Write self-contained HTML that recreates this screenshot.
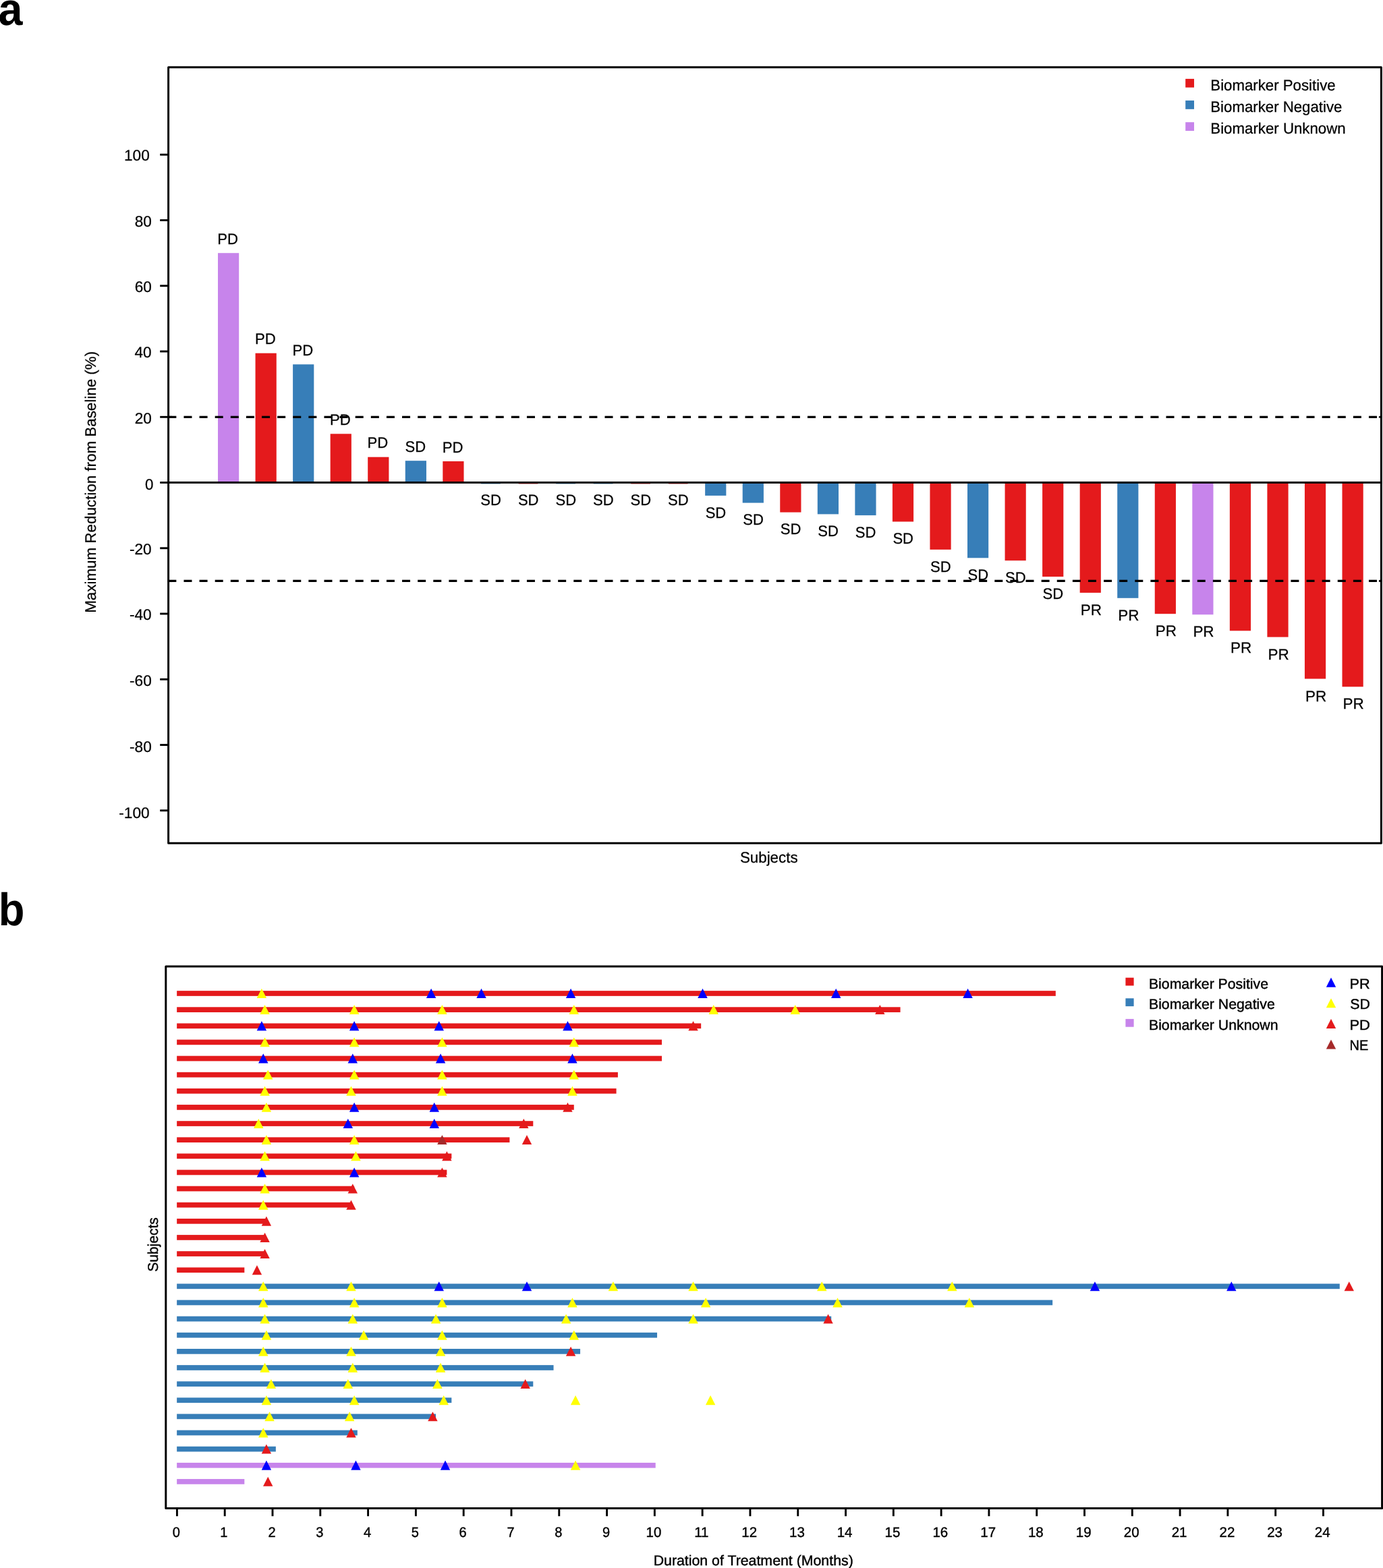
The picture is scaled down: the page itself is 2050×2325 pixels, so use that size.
<!DOCTYPE html>
<html lang="en">
<head>
<meta charset="utf-8">
<title>Tumor response waterfall and swimmer plots</title>
<style>
html,body{margin:0;padding:0;background:#fff;overflow:hidden;}
body{width:2050px;height:2325px;overflow:hidden;}
svg{display:block;}
text{fill:#000;text-rendering:geometricPrecision;}
</style>
</head>
<body>
<svg width="2050" height="2325" viewBox="0 0 2050 2325">
<rect x="0" y="0" width="2050" height="2325" fill="#fff"/>
<g shape-rendering="auto">
<rect x="323.00" y="375.20" width="31.20" height="340.35" fill="#c784eb"/>
<rect x="378.55" y="523.70" width="31.20" height="191.85" fill="#e41a1c"/>
<rect x="434.10" y="540.30" width="31.20" height="175.25" fill="#377eb8"/>
<rect x="489.65" y="643.30" width="31.20" height="72.25" fill="#e41a1c"/>
<rect x="545.20" y="677.70" width="31.20" height="37.85" fill="#e41a1c"/>
<rect x="600.75" y="683.20" width="31.20" height="32.35" fill="#377eb8"/>
<rect x="656.30" y="684.00" width="31.20" height="31.55" fill="#e41a1c"/>
<rect x="713.05" y="715.55" width="28.80" height="2.10" fill="#377eb8" fill-opacity="0.75"/>
<rect x="768.60" y="715.55" width="28.80" height="2.10" fill="#e41a1c" fill-opacity="0.75"/>
<rect x="824.15" y="715.55" width="28.80" height="2.10" fill="#377eb8" fill-opacity="0.75"/>
<rect x="879.70" y="715.55" width="28.80" height="2.10" fill="#377eb8" fill-opacity="0.75"/>
<rect x="935.25" y="715.55" width="28.80" height="2.10" fill="#e41a1c" fill-opacity="0.75"/>
<rect x="990.80" y="715.55" width="28.80" height="2.10" fill="#e41a1c" fill-opacity="0.75"/>
<rect x="1045.15" y="715.55" width="31.20" height="19.35" fill="#377eb8"/>
<rect x="1100.70" y="715.55" width="31.20" height="30.05" fill="#377eb8"/>
<rect x="1156.25" y="715.55" width="31.20" height="44.05" fill="#e41a1c"/>
<rect x="1211.80" y="715.55" width="31.20" height="46.85" fill="#377eb8"/>
<rect x="1267.35" y="715.55" width="31.20" height="48.55" fill="#377eb8"/>
<rect x="1322.90" y="715.55" width="31.20" height="57.95" fill="#e41a1c"/>
<rect x="1378.45" y="715.55" width="31.20" height="99.35" fill="#e41a1c"/>
<rect x="1434.00" y="715.55" width="31.20" height="111.75" fill="#377eb8"/>
<rect x="1489.55" y="715.55" width="31.20" height="115.65" fill="#e41a1c"/>
<rect x="1545.10" y="715.55" width="31.20" height="139.55" fill="#e41a1c"/>
<rect x="1600.65" y="715.55" width="31.20" height="163.35" fill="#e41a1c"/>
<rect x="1656.20" y="715.55" width="31.20" height="171.25" fill="#377eb8"/>
<rect x="1711.75" y="715.55" width="31.20" height="194.65" fill="#e41a1c"/>
<rect x="1767.30" y="715.55" width="31.20" height="195.75" fill="#c784eb"/>
<rect x="1822.85" y="715.55" width="31.20" height="219.75" fill="#e41a1c"/>
<rect x="1878.40" y="715.55" width="31.20" height="229.05" fill="#e41a1c"/>
<rect x="1933.95" y="715.55" width="31.20" height="290.95" fill="#e41a1c"/>
<rect x="1989.50" y="715.55" width="31.20" height="302.75" fill="#e41a1c"/>
</g>
<line x1="249.35" y1="618.30" x2="2043.50" y2="618.30" stroke="#000" stroke-width="3.3" stroke-dasharray="12.0 11.112"/>
<circle cx="2045.40" cy="618.30" r="1.55" fill="#000"/>
<line x1="249.35" y1="861.40" x2="2043.50" y2="861.40" stroke="#000" stroke-width="3.3" stroke-dasharray="12.0 11.112"/>
<circle cx="2045.40" cy="861.40" r="1.55" fill="#000"/>
<line x1="249.60" y1="715.55" x2="2047.40" y2="715.55" stroke="#000" stroke-width="3.00"/>
<rect x="249.60" y="99.70" width="1797.80" height="1150.65" fill="none" stroke="#000" stroke-width="3.00" stroke-linejoin="round"/>
<line x1="237.2" y1="229.30" x2="249.60" y2="229.30" stroke="#000" stroke-width="2.90"/>
<text transform="translate(183.94 238.20) scale(1.0029 1)" font-family='"Liberation Sans", sans-serif' font-size="22.60px" stroke="#000" stroke-width="0.25">100</text>
<line x1="237.2" y1="326.55" x2="249.60" y2="326.55" stroke="#000" stroke-width="2.90"/>
<text transform="translate(199.74 335.85) scale(0.9993 1)" font-family='"Liberation Sans", sans-serif' font-size="22.60px" stroke="#000" stroke-width="0.25">80</text>
<line x1="237.2" y1="423.80" x2="249.60" y2="423.80" stroke="#000" stroke-width="2.90"/>
<text transform="translate(199.74 432.70) scale(0.9992 1)" font-family='"Liberation Sans", sans-serif' font-size="22.60px" stroke="#000" stroke-width="0.25">60</text>
<line x1="237.2" y1="521.05" x2="249.60" y2="521.05" stroke="#000" stroke-width="2.90"/>
<text transform="translate(199.53 529.95) scale(0.9995 1)" font-family='"Liberation Sans", sans-serif' font-size="22.60px" stroke="#000" stroke-width="0.25">40</text>
<line x1="237.2" y1="618.30" x2="249.60" y2="618.30" stroke="#000" stroke-width="2.90"/>
<text transform="translate(199.74 627.70) scale(0.9992 1)" font-family='"Liberation Sans", sans-serif' font-size="22.60px" stroke="#000" stroke-width="0.25">20</text>
<line x1="237.2" y1="715.55" x2="249.60" y2="715.55" stroke="#000" stroke-width="2.90"/>
<text transform="translate(214.94 725.75) scale(0.9869 1)" font-family='"Liberation Sans", sans-serif' font-size="22.60px" stroke="#000" stroke-width="0.25">0</text>
<line x1="237.2" y1="812.80" x2="249.60" y2="812.80" stroke="#000" stroke-width="2.90"/>
<text transform="translate(191.93 821.90) scale(1.0019 1)" font-family='"Liberation Sans", sans-serif' font-size="22.60px" stroke="#000" stroke-width="0.25">-20</text>
<line x1="237.2" y1="910.05" x2="249.60" y2="910.05" stroke="#000" stroke-width="2.90"/>
<text transform="translate(191.93 918.95) scale(1.0019 1)" font-family='"Liberation Sans", sans-serif' font-size="22.60px" stroke="#000" stroke-width="0.25">-40</text>
<line x1="237.2" y1="1007.30" x2="249.60" y2="1007.30" stroke="#000" stroke-width="2.90"/>
<text transform="translate(192.03 1017.30) scale(1.0019 1)" font-family='"Liberation Sans", sans-serif' font-size="22.60px" stroke="#000" stroke-width="0.25">-60</text>
<line x1="237.2" y1="1104.55" x2="249.60" y2="1104.55" stroke="#000" stroke-width="2.90"/>
<text transform="translate(192.03 1114.75) scale(1.0019 1)" font-family='"Liberation Sans", sans-serif' font-size="22.60px" stroke="#000" stroke-width="0.25">-80</text>
<line x1="237.2" y1="1201.80" x2="249.60" y2="1201.80" stroke="#000" stroke-width="2.90"/>
<text transform="translate(176.24 1212.70) scale(1.0042 1)" font-family='"Liberation Sans", sans-serif' font-size="22.60px" stroke="#000" stroke-width="0.25">-100</text>
<text transform="translate(322.36 361.80) scale(0.9786 1)" font-family='"Liberation Sans", sans-serif' font-size="22.60px" stroke="#000" stroke-width="0.25">PD</text>
<text transform="translate(377.91 510.30) scale(0.9786 1)" font-family='"Liberation Sans", sans-serif' font-size="22.60px" stroke="#000" stroke-width="0.25">PD</text>
<text transform="translate(433.46 526.90) scale(0.9786 1)" font-family='"Liberation Sans", sans-serif' font-size="22.60px" stroke="#000" stroke-width="0.25">PD</text>
<text transform="translate(489.01 629.90) scale(0.9786 1)" font-family='"Liberation Sans", sans-serif' font-size="22.60px" stroke="#000" stroke-width="0.25">PD</text>
<text transform="translate(544.56 664.30) scale(0.9786 1)" font-family='"Liberation Sans", sans-serif' font-size="22.60px" stroke="#000" stroke-width="0.25">PD</text>
<text transform="translate(600.57 669.80) scale(0.9748 1)" font-family='"Liberation Sans", sans-serif' font-size="22.60px" stroke="#000" stroke-width="0.25">SD</text>
<text transform="translate(655.66 670.60) scale(0.9786 1)" font-family='"Liberation Sans", sans-serif' font-size="22.60px" stroke="#000" stroke-width="0.25">PD</text>
<text transform="translate(712.37 749.15) scale(0.9748 1)" font-family='"Liberation Sans", sans-serif' font-size="22.60px" stroke="#000" stroke-width="0.25">SD</text>
<text transform="translate(767.92 749.15) scale(0.9748 1)" font-family='"Liberation Sans", sans-serif' font-size="22.60px" stroke="#000" stroke-width="0.25">SD</text>
<text transform="translate(823.47 749.15) scale(0.9748 1)" font-family='"Liberation Sans", sans-serif' font-size="22.60px" stroke="#000" stroke-width="0.25">SD</text>
<text transform="translate(879.02 749.15) scale(0.9748 1)" font-family='"Liberation Sans", sans-serif' font-size="22.60px" stroke="#000" stroke-width="0.25">SD</text>
<text transform="translate(934.57 749.15) scale(0.9748 1)" font-family='"Liberation Sans", sans-serif' font-size="22.60px" stroke="#000" stroke-width="0.25">SD</text>
<text transform="translate(990.12 749.15) scale(0.9748 1)" font-family='"Liberation Sans", sans-serif' font-size="22.60px" stroke="#000" stroke-width="0.25">SD</text>
<text transform="translate(1045.67 767.70) scale(0.9748 1)" font-family='"Liberation Sans", sans-serif' font-size="22.60px" stroke="#000" stroke-width="0.25">SD</text>
<text transform="translate(1101.22 778.40) scale(0.9748 1)" font-family='"Liberation Sans", sans-serif' font-size="22.60px" stroke="#000" stroke-width="0.25">SD</text>
<text transform="translate(1156.77 792.40) scale(0.9748 1)" font-family='"Liberation Sans", sans-serif' font-size="22.60px" stroke="#000" stroke-width="0.25">SD</text>
<text transform="translate(1212.32 795.20) scale(0.9748 1)" font-family='"Liberation Sans", sans-serif' font-size="22.60px" stroke="#000" stroke-width="0.25">SD</text>
<text transform="translate(1267.87 796.90) scale(0.9748 1)" font-family='"Liberation Sans", sans-serif' font-size="22.60px" stroke="#000" stroke-width="0.25">SD</text>
<text transform="translate(1323.42 806.30) scale(0.9748 1)" font-family='"Liberation Sans", sans-serif' font-size="22.60px" stroke="#000" stroke-width="0.25">SD</text>
<text transform="translate(1378.97 847.70) scale(0.9748 1)" font-family='"Liberation Sans", sans-serif' font-size="22.60px" stroke="#000" stroke-width="0.25">SD</text>
<text transform="translate(1434.52 860.10) scale(0.9748 1)" font-family='"Liberation Sans", sans-serif' font-size="22.60px" stroke="#000" stroke-width="0.25">SD</text>
<text transform="translate(1490.07 864.00) scale(0.9748 1)" font-family='"Liberation Sans", sans-serif' font-size="22.60px" stroke="#000" stroke-width="0.25">SD</text>
<text transform="translate(1545.62 887.90) scale(0.9748 1)" font-family='"Liberation Sans", sans-serif' font-size="22.60px" stroke="#000" stroke-width="0.25">SD</text>
<text transform="translate(1601.73 912.00) scale(0.9950 1)" font-family='"Liberation Sans", sans-serif' font-size="22.60px" stroke="#000" stroke-width="0.25">PR</text>
<text transform="translate(1657.28 919.90) scale(0.9950 1)" font-family='"Liberation Sans", sans-serif' font-size="22.60px" stroke="#000" stroke-width="0.25">PR</text>
<text transform="translate(1712.83 943.30) scale(0.9950 1)" font-family='"Liberation Sans", sans-serif' font-size="22.60px" stroke="#000" stroke-width="0.25">PR</text>
<text transform="translate(1768.38 944.40) scale(0.9950 1)" font-family='"Liberation Sans", sans-serif' font-size="22.60px" stroke="#000" stroke-width="0.25">PR</text>
<text transform="translate(1823.93 968.40) scale(0.9950 1)" font-family='"Liberation Sans", sans-serif' font-size="22.60px" stroke="#000" stroke-width="0.25">PR</text>
<text transform="translate(1879.48 977.70) scale(0.9950 1)" font-family='"Liberation Sans", sans-serif' font-size="22.60px" stroke="#000" stroke-width="0.25">PR</text>
<text transform="translate(1935.03 1039.60) scale(0.9950 1)" font-family='"Liberation Sans", sans-serif' font-size="22.60px" stroke="#000" stroke-width="0.25">PR</text>
<text transform="translate(1990.58 1051.40) scale(0.9950 1)" font-family='"Liberation Sans", sans-serif' font-size="22.60px" stroke="#000" stroke-width="0.25">PR</text>
<rect x="1757.2" y="116.90" width="12.8" height="12.8" fill="#e41a1c"/>
<text transform="translate(1794.30 133.80) scale(0.9839 1)" font-family='"Liberation Sans", sans-serif' font-size="22.60px" stroke="#000" stroke-width="0.25">Biomarker Positive</text>
<rect x="1757.2" y="149.05" width="12.8" height="12.8" fill="#377eb8"/>
<text transform="translate(1794.30 166.05) scale(0.9834 1)" font-family='"Liberation Sans", sans-serif' font-size="22.60px" stroke="#000" stroke-width="0.25">Biomarker Negative</text>
<rect x="1757.2" y="181.20" width="12.8" height="12.8" fill="#c784eb"/>
<text transform="translate(1794.30 198.30) scale(0.9850 1)" font-family='"Liberation Sans", sans-serif' font-size="22.60px" stroke="#000" stroke-width="0.25">Biomarker Unknown</text>
<text transform="translate(1096.91 1279.10) scale(0.9884 1)" font-family='"Liberation Sans", sans-serif' font-size="22.60px" stroke="#000" stroke-width="0.25">Subjects</text>
<text transform="translate(142.20 908.81) rotate(-90) scale(0.9903 1)" font-family='"Liberation Sans", sans-serif' font-size="22.60px" stroke="#000" stroke-width="0.25">Maximum Reduction from Baseline (%)</text>
<text transform="translate(-2.40 37.20) scale(0.9515 1)" font-family='"Liberation Sans", sans-serif' font-size="68.00px" font-weight="bold">a</text>
<rect x="262.15" y="1469.15" width="1302.66" height="7.70" fill="#e41a1c"/>
<rect x="262.15" y="1493.28" width="1072.40" height="7.70" fill="#e41a1c"/>
<rect x="262.15" y="1517.41" width="777.01" height="7.70" fill="#e41a1c"/>
<rect x="262.15" y="1541.54" width="718.86" height="7.70" fill="#e41a1c"/>
<rect x="262.15" y="1565.67" width="718.86" height="7.70" fill="#e41a1c"/>
<rect x="262.15" y="1589.80" width="653.73" height="7.70" fill="#e41a1c"/>
<rect x="262.15" y="1613.93" width="651.41" height="7.70" fill="#e41a1c"/>
<rect x="262.15" y="1638.06" width="588.61" height="7.70" fill="#e41a1c"/>
<rect x="262.15" y="1662.19" width="528.13" height="7.70" fill="#e41a1c"/>
<rect x="262.15" y="1686.32" width="493.24" height="7.70" fill="#e41a1c"/>
<rect x="262.15" y="1710.45" width="407.18" height="7.70" fill="#e41a1c"/>
<rect x="262.15" y="1734.58" width="400.21" height="7.70" fill="#e41a1c"/>
<rect x="262.15" y="1758.71" width="262.98" height="7.70" fill="#e41a1c"/>
<rect x="262.15" y="1782.84" width="258.33" height="7.70" fill="#e41a1c"/>
<rect x="262.15" y="1806.97" width="132.73" height="7.70" fill="#e41a1c"/>
<rect x="262.15" y="1831.10" width="130.40" height="7.70" fill="#e41a1c"/>
<rect x="262.15" y="1855.23" width="130.40" height="7.70" fill="#e41a1c"/>
<rect x="262.15" y="1879.36" width="100.16" height="7.70" fill="#e41a1c"/>
<rect x="262.15" y="1903.49" width="1723.65" height="7.70" fill="#377eb8"/>
<rect x="262.15" y="1927.62" width="1298.01" height="7.70" fill="#377eb8"/>
<rect x="262.15" y="1951.75" width="970.06" height="7.70" fill="#377eb8"/>
<rect x="262.15" y="1975.88" width="711.88" height="7.70" fill="#377eb8"/>
<rect x="262.15" y="2000.01" width="597.91" height="7.70" fill="#377eb8"/>
<rect x="262.15" y="2024.14" width="558.37" height="7.70" fill="#377eb8"/>
<rect x="262.15" y="2048.27" width="528.13" height="7.70" fill="#377eb8"/>
<rect x="262.15" y="2072.40" width="407.18" height="7.70" fill="#377eb8"/>
<rect x="262.15" y="2096.53" width="383.93" height="7.70" fill="#377eb8"/>
<rect x="262.15" y="2120.66" width="267.63" height="7.70" fill="#377eb8"/>
<rect x="262.15" y="2144.79" width="146.68" height="7.70" fill="#377eb8"/>
<rect x="262.15" y="2168.92" width="709.55" height="7.70" fill="#c784eb"/>
<rect x="262.15" y="2193.05" width="100.16" height="7.70" fill="#c784eb"/>
<path d="M387.90 1465.80L395.10 1479.95L380.70 1479.95Z" fill="#ffff00"/>
<path d="M639.10 1465.80L646.30 1479.95L631.90 1479.95Z" fill="#0000ff"/>
<path d="M713.53 1465.80L720.73 1479.95L706.33 1479.95Z" fill="#0000ff"/>
<path d="M846.10 1465.80L853.30 1479.95L838.90 1479.95Z" fill="#0000ff"/>
<path d="M1041.48 1465.80L1048.68 1479.95L1034.28 1479.95Z" fill="#0000ff"/>
<path d="M1239.18 1465.80L1246.38 1479.95L1231.98 1479.95Z" fill="#0000ff"/>
<path d="M1434.56 1465.80L1441.76 1479.95L1427.36 1479.95Z" fill="#0000ff"/>
<path d="M392.55 1489.93L399.75 1504.08L385.35 1504.08Z" fill="#ffff00"/>
<path d="M525.13 1489.93L532.33 1504.08L517.93 1504.08Z" fill="#ffff00"/>
<path d="M655.38 1489.93L662.58 1504.08L648.18 1504.08Z" fill="#ffff00"/>
<path d="M850.76 1489.93L857.96 1504.08L843.56 1504.08Z" fill="#ffff00"/>
<path d="M1057.76 1489.93L1064.96 1504.08L1050.56 1504.08Z" fill="#ffff00"/>
<path d="M1178.71 1489.93L1185.91 1504.08L1171.51 1504.08Z" fill="#ffff00"/>
<path d="M1304.31 1489.93L1311.51 1504.08L1297.11 1504.08Z" fill="#e41a1c"/>
<path d="M387.90 1514.06L395.10 1528.21L380.70 1528.21Z" fill="#0000ff"/>
<path d="M525.13 1514.06L532.33 1528.21L517.93 1528.21Z" fill="#0000ff"/>
<path d="M650.73 1514.06L657.93 1528.21L643.53 1528.21Z" fill="#0000ff"/>
<path d="M841.45 1514.06L848.65 1528.21L834.25 1528.21Z" fill="#0000ff"/>
<path d="M1027.53 1514.06L1034.73 1528.21L1020.33 1528.21Z" fill="#e41a1c"/>
<path d="M392.55 1538.19L399.75 1552.34L385.35 1552.34Z" fill="#ffff00"/>
<path d="M525.13 1538.19L532.33 1552.34L517.93 1552.34Z" fill="#ffff00"/>
<path d="M655.38 1538.19L662.58 1552.34L648.18 1552.34Z" fill="#ffff00"/>
<path d="M850.76 1538.19L857.96 1552.34L843.56 1552.34Z" fill="#ffff00"/>
<path d="M390.23 1562.32L397.43 1576.47L383.03 1576.47Z" fill="#0000ff"/>
<path d="M522.80 1562.32L530.00 1576.47L515.60 1576.47Z" fill="#0000ff"/>
<path d="M653.05 1562.32L660.25 1576.47L645.85 1576.47Z" fill="#0000ff"/>
<path d="M848.43 1562.32L855.63 1576.47L841.23 1576.47Z" fill="#0000ff"/>
<path d="M397.20 1586.45L404.40 1600.60L390.00 1600.60Z" fill="#ffff00"/>
<path d="M525.13 1586.45L532.33 1600.60L517.93 1600.60Z" fill="#ffff00"/>
<path d="M655.38 1586.45L662.58 1600.60L648.18 1600.60Z" fill="#ffff00"/>
<path d="M850.76 1586.45L857.96 1600.60L843.56 1600.60Z" fill="#ffff00"/>
<path d="M392.55 1610.58L399.75 1624.73L385.35 1624.73Z" fill="#ffff00"/>
<path d="M520.48 1610.58L527.68 1624.73L513.28 1624.73Z" fill="#ffff00"/>
<path d="M655.38 1610.58L662.58 1624.73L648.18 1624.73Z" fill="#ffff00"/>
<path d="M848.43 1610.58L855.63 1624.73L841.23 1624.73Z" fill="#ffff00"/>
<path d="M394.88 1634.71L402.08 1648.86L387.68 1648.86Z" fill="#ffff00"/>
<path d="M525.13 1634.71L532.33 1648.86L517.93 1648.86Z" fill="#0000ff"/>
<path d="M643.75 1634.71L650.95 1648.86L636.55 1648.86Z" fill="#0000ff"/>
<path d="M841.45 1634.71L848.65 1648.86L834.25 1648.86Z" fill="#e41a1c"/>
<path d="M383.25 1658.84L390.45 1672.99L376.05 1672.99Z" fill="#ffff00"/>
<path d="M515.82 1658.84L523.02 1672.99L508.62 1672.99Z" fill="#0000ff"/>
<path d="M643.75 1658.84L650.95 1672.99L636.55 1672.99Z" fill="#0000ff"/>
<path d="M776.33 1658.84L783.53 1672.99L769.13 1672.99Z" fill="#e41a1c"/>
<path d="M394.88 1682.97L402.08 1697.12L387.68 1697.12Z" fill="#ffff00"/>
<path d="M525.13 1682.97L532.33 1697.12L517.93 1697.12Z" fill="#ffff00"/>
<path d="M655.38 1682.97L662.58 1697.12L648.18 1697.12Z" fill="#a52a2a"/>
<path d="M780.98 1682.97L788.18 1697.12L773.78 1697.12Z" fill="#e41a1c"/>
<path d="M392.55 1707.10L399.75 1721.25L385.35 1721.25Z" fill="#ffff00"/>
<path d="M527.45 1707.10L534.65 1721.25L520.25 1721.25Z" fill="#ffff00"/>
<path d="M662.36 1707.10L669.56 1721.25L655.16 1721.25Z" fill="#e41a1c"/>
<path d="M387.90 1731.23L395.10 1745.38L380.70 1745.38Z" fill="#0000ff"/>
<path d="M525.13 1731.23L532.33 1745.38L517.93 1745.38Z" fill="#0000ff"/>
<path d="M655.38 1731.23L662.58 1745.38L648.18 1745.38Z" fill="#e41a1c"/>
<path d="M392.55 1755.36L399.75 1769.51L385.35 1769.51Z" fill="#ffff00"/>
<path d="M522.80 1755.36L530.00 1769.51L515.60 1769.51Z" fill="#e41a1c"/>
<path d="M390.23 1779.49L397.43 1793.64L383.03 1793.64Z" fill="#ffff00"/>
<path d="M520.48 1779.49L527.68 1793.64L513.28 1793.64Z" fill="#e41a1c"/>
<path d="M394.88 1803.62L402.08 1817.77L387.68 1817.77Z" fill="#e41a1c"/>
<path d="M392.55 1827.75L399.75 1841.90L385.35 1841.90Z" fill="#e41a1c"/>
<path d="M392.55 1851.88L399.75 1866.03L385.35 1866.03Z" fill="#e41a1c"/>
<path d="M380.92 1876.01L388.12 1890.16L373.72 1890.16Z" fill="#e41a1c"/>
<path d="M390.23 1900.14L397.43 1914.29L383.03 1914.29Z" fill="#ffff00"/>
<path d="M520.48 1900.14L527.68 1914.29L513.28 1914.29Z" fill="#ffff00"/>
<path d="M650.73 1900.14L657.93 1914.29L643.53 1914.29Z" fill="#0000ff"/>
<path d="M780.98 1900.14L788.18 1914.29L773.78 1914.29Z" fill="#0000ff"/>
<path d="M908.90 1900.14L916.10 1914.29L901.70 1914.29Z" fill="#ffff00"/>
<path d="M1027.53 1900.14L1034.73 1914.29L1020.33 1914.29Z" fill="#ffff00"/>
<path d="M1218.25 1900.14L1225.45 1914.29L1211.05 1914.29Z" fill="#ffff00"/>
<path d="M1411.30 1900.14L1418.50 1914.29L1404.10 1914.29Z" fill="#ffff00"/>
<path d="M1622.96 1900.14L1630.16 1914.29L1615.76 1914.29Z" fill="#0000ff"/>
<path d="M1825.31 1900.14L1832.51 1914.29L1818.11 1914.29Z" fill="#0000ff"/>
<path d="M1999.76 1900.14L2006.96 1914.29L1992.56 1914.29Z" fill="#e41a1c"/>
<path d="M390.23 1924.27L397.43 1938.42L383.03 1938.42Z" fill="#ffff00"/>
<path d="M525.13 1924.27L532.33 1938.42L517.93 1938.42Z" fill="#ffff00"/>
<path d="M655.38 1924.27L662.58 1938.42L648.18 1938.42Z" fill="#ffff00"/>
<path d="M848.43 1924.27L855.63 1938.42L841.23 1938.42Z" fill="#ffff00"/>
<path d="M1046.13 1924.27L1053.33 1938.42L1038.93 1938.42Z" fill="#ffff00"/>
<path d="M1241.51 1924.27L1248.71 1938.42L1234.31 1938.42Z" fill="#ffff00"/>
<path d="M1436.89 1924.27L1444.09 1938.42L1429.69 1938.42Z" fill="#ffff00"/>
<path d="M392.55 1948.40L399.75 1962.55L385.35 1962.55Z" fill="#ffff00"/>
<path d="M522.80 1948.40L530.00 1962.55L515.60 1962.55Z" fill="#ffff00"/>
<path d="M646.08 1948.40L653.28 1962.55L638.88 1962.55Z" fill="#ffff00"/>
<path d="M839.13 1948.40L846.33 1962.55L831.93 1962.55Z" fill="#ffff00"/>
<path d="M1027.53 1948.40L1034.73 1962.55L1020.33 1962.55Z" fill="#ffff00"/>
<path d="M1227.55 1948.40L1234.75 1962.55L1220.35 1962.55Z" fill="#e41a1c"/>
<path d="M394.88 1972.53L402.08 1986.68L387.68 1986.68Z" fill="#ffff00"/>
<path d="M539.08 1972.53L546.28 1986.68L531.88 1986.68Z" fill="#ffff00"/>
<path d="M655.38 1972.53L662.58 1986.68L648.18 1986.68Z" fill="#ffff00"/>
<path d="M850.76 1972.53L857.96 1986.68L843.56 1986.68Z" fill="#ffff00"/>
<path d="M390.23 1996.66L397.43 2010.81L383.03 2010.81Z" fill="#ffff00"/>
<path d="M520.48 1996.66L527.68 2010.81L513.28 2010.81Z" fill="#ffff00"/>
<path d="M653.05 1996.66L660.25 2010.81L645.85 2010.81Z" fill="#ffff00"/>
<path d="M846.10 1996.66L853.30 2010.81L838.90 2010.81Z" fill="#e41a1c"/>
<path d="M392.55 2020.79L399.75 2034.94L385.35 2034.94Z" fill="#ffff00"/>
<path d="M522.80 2020.79L530.00 2034.94L515.60 2034.94Z" fill="#ffff00"/>
<path d="M653.05 2020.79L660.25 2034.94L645.85 2034.94Z" fill="#ffff00"/>
<path d="M401.85 2044.92L409.05 2059.07L394.65 2059.07Z" fill="#ffff00"/>
<path d="M515.82 2044.92L523.02 2059.07L508.62 2059.07Z" fill="#ffff00"/>
<path d="M648.40 2044.92L655.60 2059.07L641.20 2059.07Z" fill="#ffff00"/>
<path d="M778.65 2044.92L785.85 2059.07L771.45 2059.07Z" fill="#e41a1c"/>
<path d="M394.88 2069.05L402.08 2083.20L387.68 2083.20Z" fill="#ffff00"/>
<path d="M525.13 2069.05L532.33 2083.20L517.93 2083.20Z" fill="#ffff00"/>
<path d="M657.71 2069.05L664.91 2083.20L650.51 2083.20Z" fill="#ffff00"/>
<path d="M853.08 2069.05L860.28 2083.20L845.88 2083.20Z" fill="#ffff00"/>
<path d="M1053.11 2069.05L1060.31 2083.20L1045.91 2083.20Z" fill="#ffff00"/>
<path d="M399.53 2093.18L406.73 2107.33L392.33 2107.33Z" fill="#ffff00"/>
<path d="M518.15 2093.18L525.35 2107.33L510.95 2107.33Z" fill="#ffff00"/>
<path d="M641.42 2093.18L648.62 2107.33L634.22 2107.33Z" fill="#e41a1c"/>
<path d="M390.23 2117.31L397.43 2131.46L383.03 2131.46Z" fill="#ffff00"/>
<path d="M520.48 2117.31L527.68 2131.46L513.28 2131.46Z" fill="#e41a1c"/>
<path d="M394.88 2141.44L402.08 2155.59L387.68 2155.59Z" fill="#e41a1c"/>
<path d="M394.88 2165.57L402.08 2179.72L387.68 2179.72Z" fill="#0000ff"/>
<path d="M527.45 2165.57L534.65 2179.72L520.25 2179.72Z" fill="#0000ff"/>
<path d="M660.03 2165.57L667.23 2179.72L652.83 2179.72Z" fill="#0000ff"/>
<path d="M853.08 2165.57L860.28 2179.72L845.88 2179.72Z" fill="#ffff00"/>
<path d="M397.20 2189.70L404.40 2203.85L390.00 2203.85Z" fill="#e41a1c"/>
<rect x="245.80" y="1433.00" width="1802.80" height="803.55" fill="none" stroke="#000" stroke-width="3.00" stroke-linejoin="round"/>
<line x1="262.40" y1="2236.55" x2="262.40" y2="2248.2" stroke="#000" stroke-width="2.90"/>
<text transform="translate(255.82 2279.40) scale(0.9600 1)" font-family='"Liberation Sans", sans-serif' font-size="20.90px" stroke="#000" stroke-width="0.40">0</text>
<line x1="333.19" y1="2236.55" x2="333.19" y2="2248.2" stroke="#000" stroke-width="2.90"/>
<text transform="translate(326.37 2279.40) scale(0.9556 1)" font-family='"Liberation Sans", sans-serif' font-size="20.90px" stroke="#000" stroke-width="0.40">1</text>
<line x1="403.99" y1="2236.55" x2="403.99" y2="2248.2" stroke="#000" stroke-width="2.90"/>
<text transform="translate(397.42 2279.40) scale(0.9580 1)" font-family='"Liberation Sans", sans-serif' font-size="20.90px" stroke="#000" stroke-width="0.40">2</text>
<line x1="474.78" y1="2236.55" x2="474.78" y2="2248.2" stroke="#000" stroke-width="2.90"/>
<text transform="translate(468.27 2279.40) scale(0.9596 1)" font-family='"Liberation Sans", sans-serif' font-size="20.90px" stroke="#000" stroke-width="0.40">3</text>
<line x1="545.58" y1="2236.55" x2="545.58" y2="2248.2" stroke="#000" stroke-width="2.90"/>
<text transform="translate(539.05 2279.40) scale(0.9620 1)" font-family='"Liberation Sans", sans-serif' font-size="20.90px" stroke="#000" stroke-width="0.40">4</text>
<line x1="616.38" y1="2236.55" x2="616.38" y2="2248.2" stroke="#000" stroke-width="2.90"/>
<text transform="translate(609.82 2279.40) scale(0.9596 1)" font-family='"Liberation Sans", sans-serif' font-size="20.90px" stroke="#000" stroke-width="0.40">5</text>
<line x1="687.17" y1="2236.55" x2="687.17" y2="2248.2" stroke="#000" stroke-width="2.90"/>
<text transform="translate(680.53 2279.40) scale(0.9585 1)" font-family='"Liberation Sans", sans-serif' font-size="20.90px" stroke="#000" stroke-width="0.40">6</text>
<line x1="757.96" y1="2236.55" x2="757.96" y2="2248.2" stroke="#000" stroke-width="2.90"/>
<text transform="translate(751.39 2279.40) scale(0.9579 1)" font-family='"Liberation Sans", sans-serif' font-size="20.90px" stroke="#000" stroke-width="0.40">7</text>
<line x1="828.76" y1="2236.55" x2="828.76" y2="2248.2" stroke="#000" stroke-width="2.90"/>
<text transform="translate(822.19 2279.40) scale(0.9592 1)" font-family='"Liberation Sans", sans-serif' font-size="20.90px" stroke="#000" stroke-width="0.40">8</text>
<line x1="899.55" y1="2236.55" x2="899.55" y2="2248.2" stroke="#000" stroke-width="2.90"/>
<text transform="translate(892.99 2279.40) scale(0.9586 1)" font-family='"Liberation Sans", sans-serif' font-size="20.90px" stroke="#000" stroke-width="0.40">9</text>
<line x1="970.35" y1="2236.55" x2="970.35" y2="2248.2" stroke="#000" stroke-width="2.90"/>
<text transform="translate(957.57 2279.40) scale(0.9808 1)" font-family='"Liberation Sans", sans-serif' font-size="20.90px" stroke="#000" stroke-width="0.40">10</text>
<line x1="1041.14" y1="2236.55" x2="1041.14" y2="2248.2" stroke="#000" stroke-width="2.90"/>
<text transform="translate(1029.24 2279.40) scale(0.9790 1)" font-family='"Liberation Sans", sans-serif' font-size="20.90px" stroke="#000" stroke-width="0.40">11</text>
<line x1="1111.94" y1="2236.55" x2="1111.94" y2="2248.2" stroke="#000" stroke-width="2.90"/>
<text transform="translate(1099.28 2279.40) scale(0.9806 1)" font-family='"Liberation Sans", sans-serif' font-size="20.90px" stroke="#000" stroke-width="0.40">12</text>
<line x1="1182.74" y1="2236.55" x2="1182.74" y2="2248.2" stroke="#000" stroke-width="2.90"/>
<text transform="translate(1170.01 2279.40) scale(0.9807 1)" font-family='"Liberation Sans", sans-serif' font-size="20.90px" stroke="#000" stroke-width="0.40">13</text>
<line x1="1253.53" y1="2236.55" x2="1253.53" y2="2248.2" stroke="#000" stroke-width="2.90"/>
<text transform="translate(1240.65 2279.40) scale(0.9810 1)" font-family='"Liberation Sans", sans-serif' font-size="20.90px" stroke="#000" stroke-width="0.40">14</text>
<line x1="1324.32" y1="2236.55" x2="1324.32" y2="2248.2" stroke="#000" stroke-width="2.90"/>
<text transform="translate(1311.57 2279.40) scale(0.9807 1)" font-family='"Liberation Sans", sans-serif' font-size="20.90px" stroke="#000" stroke-width="0.40">15</text>
<line x1="1395.12" y1="2236.55" x2="1395.12" y2="2248.2" stroke="#000" stroke-width="2.90"/>
<text transform="translate(1382.39 2279.40) scale(0.9807 1)" font-family='"Liberation Sans", sans-serif' font-size="20.90px" stroke="#000" stroke-width="0.40">16</text>
<line x1="1465.91" y1="2236.55" x2="1465.91" y2="2248.2" stroke="#000" stroke-width="2.90"/>
<text transform="translate(1453.25 2279.40) scale(0.9806 1)" font-family='"Liberation Sans", sans-serif' font-size="20.90px" stroke="#000" stroke-width="0.40">17</text>
<line x1="1536.71" y1="2236.55" x2="1536.71" y2="2248.2" stroke="#000" stroke-width="2.90"/>
<text transform="translate(1523.98 2279.40) scale(0.9807 1)" font-family='"Liberation Sans", sans-serif' font-size="20.90px" stroke="#000" stroke-width="0.40">18</text>
<line x1="1607.51" y1="2236.55" x2="1607.51" y2="2248.2" stroke="#000" stroke-width="2.90"/>
<text transform="translate(1594.81 2279.40) scale(0.9806 1)" font-family='"Liberation Sans", sans-serif' font-size="20.90px" stroke="#000" stroke-width="0.40">19</text>
<line x1="1678.30" y1="2236.55" x2="1678.30" y2="2248.2" stroke="#000" stroke-width="2.90"/>
<text transform="translate(1665.78 2279.40) scale(0.9813 1)" font-family='"Liberation Sans", sans-serif' font-size="20.90px" stroke="#000" stroke-width="0.40">20</text>
<line x1="1749.09" y1="2236.55" x2="1749.09" y2="2248.2" stroke="#000" stroke-width="2.90"/>
<text transform="translate(1736.68 2279.40) scale(0.9811 1)" font-family='"Liberation Sans", sans-serif' font-size="20.90px" stroke="#000" stroke-width="0.40">21</text>
<line x1="1819.89" y1="2236.55" x2="1819.89" y2="2248.2" stroke="#000" stroke-width="2.90"/>
<text transform="translate(1807.49 2279.40) scale(0.9811 1)" font-family='"Liberation Sans", sans-serif' font-size="20.90px" stroke="#000" stroke-width="0.40">22</text>
<line x1="1890.68" y1="2236.55" x2="1890.68" y2="2248.2" stroke="#000" stroke-width="2.90"/>
<text transform="translate(1878.21 2279.40) scale(0.9812 1)" font-family='"Liberation Sans", sans-serif' font-size="20.90px" stroke="#000" stroke-width="0.40">23</text>
<line x1="1961.48" y1="2236.55" x2="1961.48" y2="2248.2" stroke="#000" stroke-width="2.90"/>
<text transform="translate(1948.86 2279.40) scale(0.9815 1)" font-family='"Liberation Sans", sans-serif' font-size="20.90px" stroke="#000" stroke-width="0.40">24</text>
<rect x="1668.4" y="1449.70" width="12.2" height="11.8" fill="#e41a1c"/>
<text transform="translate(1702.96 1465.60) scale(1.0021 1)" font-family='"Liberation Sans", sans-serif' font-size="21.20px" stroke="#000" stroke-width="0.40">Biomarker Positive</text>
<rect x="1668.4" y="1480.30" width="12.2" height="11.8" fill="#377eb8"/>
<text transform="translate(1702.95 1496.23) scale(1.0039 1)" font-family='"Liberation Sans", sans-serif' font-size="21.20px" stroke="#000" stroke-width="0.40">Biomarker Negative</text>
<rect x="1668.4" y="1510.90" width="12.2" height="11.8" fill="#c784eb"/>
<text transform="translate(1702.95 1526.86) scale(1.0045 1)" font-family='"Liberation Sans", sans-serif' font-size="21.20px" stroke="#000" stroke-width="0.40">Biomarker Unknown</text>
<path d="M1973.00 1449.60L1980.20 1463.75L1965.80 1463.75Z" fill="#0000ff"/>
<text transform="translate(2000.42 1465.60) scale(1.0252 1)" font-family='"Liberation Sans", sans-serif' font-size="21.20px" stroke="#000" stroke-width="0.40">PR</text>
<path d="M1973.00 1480.20L1980.20 1494.35L1965.80 1494.35Z" fill="#ffff00"/>
<text transform="translate(2001.23 1496.23) scale(1.0046 1)" font-family='"Liberation Sans", sans-serif' font-size="21.20px" stroke="#000" stroke-width="0.40">SD</text>
<path d="M1973.00 1510.80L1980.20 1524.95L1965.80 1524.95Z" fill="#e41a1c"/>
<text transform="translate(2000.40 1526.86) scale(1.0338 1)" font-family='"Liberation Sans", sans-serif' font-size="21.20px" stroke="#000" stroke-width="0.40">PD</text>
<path d="M1973.00 1541.40L1980.20 1555.55L1965.80 1555.55Z" fill="#a52a2a"/>
<text transform="translate(2000.56 1557.49) scale(0.9403 1)" font-family='"Liberation Sans", sans-serif' font-size="21.20px" stroke="#000" stroke-width="0.40">NE</text>
<text transform="translate(234.30 1885.86) rotate(-90) scale(0.9927 1)" font-family='"Liberation Sans", sans-serif' font-size="21.20px" stroke="#000" stroke-width="0.40">Subjects</text>
<text transform="translate(968.65 2321.30) scale(1.0058 1)" font-family='"Liberation Sans", sans-serif' font-size="21.20px" stroke="#000" stroke-width="0.40">Duration of Treatment (Months)</text>
<text transform="translate(-2.37 1372.20) scale(0.9310 1)" font-family='"Liberation Sans", sans-serif' font-size="68.00px" font-weight="bold">b</text>
</svg>
</body>
</html>
